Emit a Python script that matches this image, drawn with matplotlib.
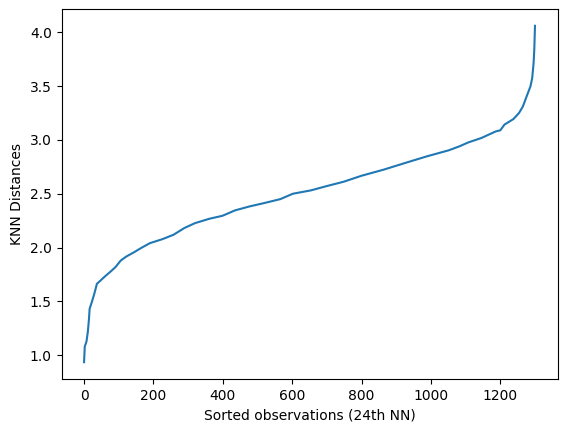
import matplotlib
matplotlib.use("Agg")
import matplotlib.pyplot as plt

obs = [0, 2, 7, 11, 14, 16, 23, 30, 37, 60, 80, 91, 106, 122, 145, 164, 190,
       226, 258, 289, 320, 362, 399, 435, 477, 519, 566, 602, 654, 696, 748,
       800, 863, 925, 988, 1051, 1082, 1108, 1145, 1187, 1200, 1212, 1238,
       1254, 1265, 1276, 1287, 1292, 1296, 1298, 1300]
knn_dist = [0.935, 1.08, 1.127, 1.22, 1.33, 1.43, 1.50, 1.576, 1.663, 1.731,
            1.787, 1.82, 1.88, 1.917, 1.958, 1.995, 2.041, 2.078, 2.119,
            2.181, 2.227, 2.268, 2.295, 2.345, 2.382, 2.413, 2.45, 2.50,
            2.531, 2.568, 2.611, 2.667, 2.723, 2.785, 2.847, 2.903, 2.94,
            2.977, 3.017, 3.079, 3.089, 3.142, 3.194, 3.25, 3.31, 3.405,
            3.498, 3.575, 3.715, 3.84, 4.06]

fig = plt.figure(figsize=(5.67, 4.32), dpi=100)
ax = fig.add_axes([0.1085, 0.1227, 0.8748, 0.8565])

ax.plot(obs, knn_dist)
ax.set_xlabel('Sorted observations (24th NN)')
ax.set_ylabel('KNN Distances')

fig.savefig('out.png', dpi=100)
